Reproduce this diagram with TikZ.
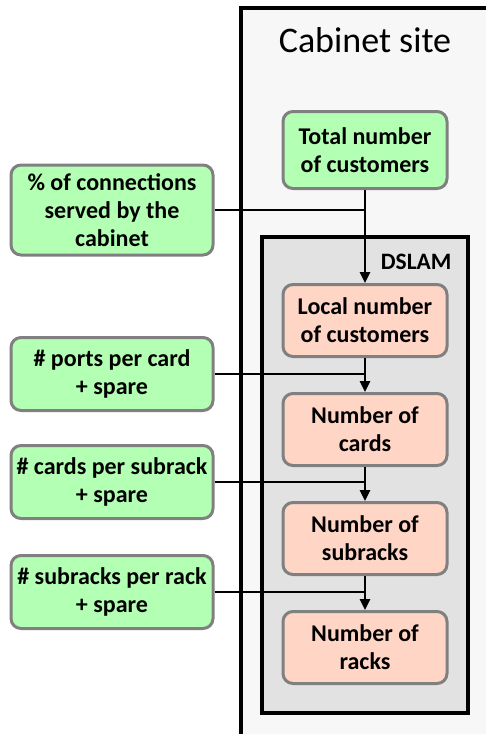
\documentclass[tikz,border=0pt]{standalone}
\usepackage{fontspec}
\setmainfont{Carlito}
\usetikzlibrary{positioning,arrows.meta}
\definecolor{cSite} {RGB}{247,247,247}
\definecolor{cDslam}{RGB}{226,226,226}
\definecolor{cParam}{RGB}{179,255,179}
\definecolor{cCalc} {RGB}{255,213,197}
\definecolor{cEdge} {RGB}{128,128,128}
\tikzset{
  box/.style    = {draw=cEdge, line width=3pt, rounded corners=10pt,
                   align=center, inner sep=2pt,
                   font=\fontsize{24}{28}\selectfont\bfseries},
  param/.style  = {box, fill=cParam, minimum width=202pt, minimum height=73pt},
  calc/.style   = {box, fill=cCalc, minimum width=164pt, minimum height=72pt},
  frame/.style  = {draw=black, line width=3.5pt},
  flow/.style   = {-{Triangle[length=11pt,width=10pt]}, line width=2.5pt},
  feed/.style   = {line width=2.5pt},
}
\begin{document}
\begin{tikzpicture}[x=1pt,y=-1pt]
  \useasboundingbox (0,0) rectangle (486,734);

  %% ---------------- enclosures -------------------------------------
  \draw[frame, fill=cSite]  (241,8) rectangle (520,770);
  \draw[frame, fill=cDslam] (262,237) rectangle (468,713);
  \node[font=\fontsize{36}{40}\selectfont] (site) at (365,40) {Cabinet site};
  \node[font=\fontsize{23.5}{27}\selectfont\bfseries, anchor=east]
       (dslam) at (455,262) {DSLAM};

  %% ---------------- calculation chain ------------------------------
  \node[calc, fill=cParam, minimum height=77pt] (total) at (365,150)
       {Total number\\of customers};
  \node[calc] (local) [below=93pt of total] {Local number\\of customers};
  \node[calc] (cards) [below=34pt of local] {Number of\\cards};
  \node[calc] (subs)  [below=34pt of cards] {Number of\\subracks};
  \node[calc] (racks) [below=34pt of subs]  {Number of\\racks};

  %% ---------------- inputs -----------------------------------------
  \node[param, minimum height=90pt] (share) at (112,210)
       {\% of connections\\served by the\\cabinet};
  \node[param] (ports)   at (112,374) {\# ports per card\\+ spare};
  \node[param] (cardsub) at (112,482) {\# cards per subrack\\+ spare};
  \node[param] (subrack) at (112,592) {\# subracks per rack\\+ spare};

  %% ---------------- connectors -------------------------------------
  \draw[flow] (total) -- (local);
  \draw[flow] (local) -- (cards);
  \draw[flow] (cards) -- (subs);
  \draw[flow] (subs)  -- (racks);
  \draw[feed] (share)   -- (share -| total);
  \draw[feed] (ports)   -- (ports -| cards);
  \draw[feed] (cardsub) -- (cardsub -| subs);
  \draw[feed] (subrack) -- (subrack -| racks);
\end{tikzpicture}
\end{document}
